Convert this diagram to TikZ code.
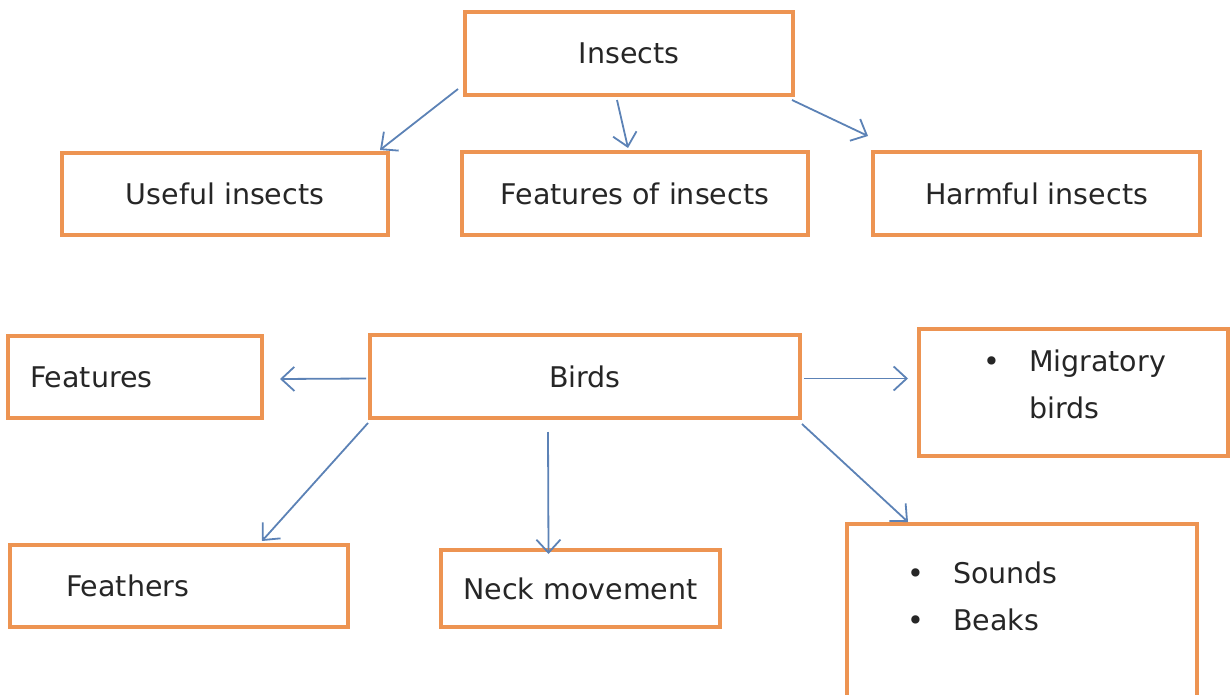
\documentclass[tikz,border=0pt]{standalone}
\usepackage{fontspec}
\setmainfont{DejaVu Sans}
\usetikzlibrary{arrows.meta}

\definecolor{boxorange}{RGB}{237,148,82}
\definecolor{arrowblue}{RGB}{92,130,182}

\begin{document}
\begin{tikzpicture}[
            x=1pt, y=-1pt,
            block/.style={rectangle, draw=boxorange, line width=4pt,
                fill=white, inner sep=0pt, text=black!85,
                font=\fontsize{28.5}{47}\selectfont
            },
            line/.style={draw=arrowblue, line width=1.8pt,
                -{Straight Barb[length=13pt, width=24pt]}}
        ]
            \useasboundingbox (0,0) rectangle (1231,695);

            % Insects part
            \node [block, minimum width=328, minimum height=83] (insects) at (629,53.5) {Insects};
            \node [block, minimum width=326, minimum height=82] (useful) at (225,194) {Useful insects};
            \node [block, minimum width=346, minimum height=83] (featins) at (635,193.5) {Features of insects};
            \node [block, minimum width=327, minimum height=83] (harmful) at (1036.5,193.5) {Harmful insects};

            % Birds part
            \node [block, minimum width=430, minimum height=83] (birds) at (585,376.5) {Birds};
            \node [block, text width=210, inner xsep=22, align=left, minimum height=82] (features) at (135,377) {Features};
            \node [block, text width=309, align=left, minimum height=127, text depth=63pt] (migr) at (1073.5,392.5)
                {\hspace*{64pt}\makebox[46pt][l]{•}Migratory\\\hspace*{110pt}birds};
            \node [block, text width=226, inner xsep=56, align=left, minimum height=82] (feathers) at (179,586) {Feathers};
            \node [block, minimum width=279, minimum height=77] (neck) at (580.5,588.5) {Neck movement};
            \node [block, anchor=north, text width=350, align=left, inner ysep=38, text depth=160pt] (sounds) at (1022,522)
                {\hspace*{60pt}\makebox[46pt][l]{•}Sounds\\\hspace*{60pt}\makebox[46pt][l]{•}Beaks};

            % arrows
            \path [line] ([shift={(-5,-8)}]insects.south west) -- ([shift={(-10,-1)}]useful.north east);
            \path [line] ([shift={(-12,3)}]insects.south) -- ([shift={(-7,-2)}]featins.north);
            \path [line] ([shift={(-3,3)}]insects.south east) -- ([shift={(-3,-14)}]harmful.north west);
            \path [line] ([shift={(-2,2)}]birds.west) -- ([shift={(16,2)}]features.east);
            \path [line] ([shift={(2,2)}]birds.east) -- ([shift={(-9,-14)}]migr.west);
            \path [line] ([shift={(0,3)}]birds.south west) -- ([shift={(83,-2)}]feathers.north);
            \path [line] ([shift={(-37,12)}]birds.south) -- ([shift={(-32,6)}]neck.north);
            \path [line] ([shift={(0,4)}]birds.south east) -- ([shift={(63,0)}]sounds.north west);
        \end{tikzpicture}
\end{document}
